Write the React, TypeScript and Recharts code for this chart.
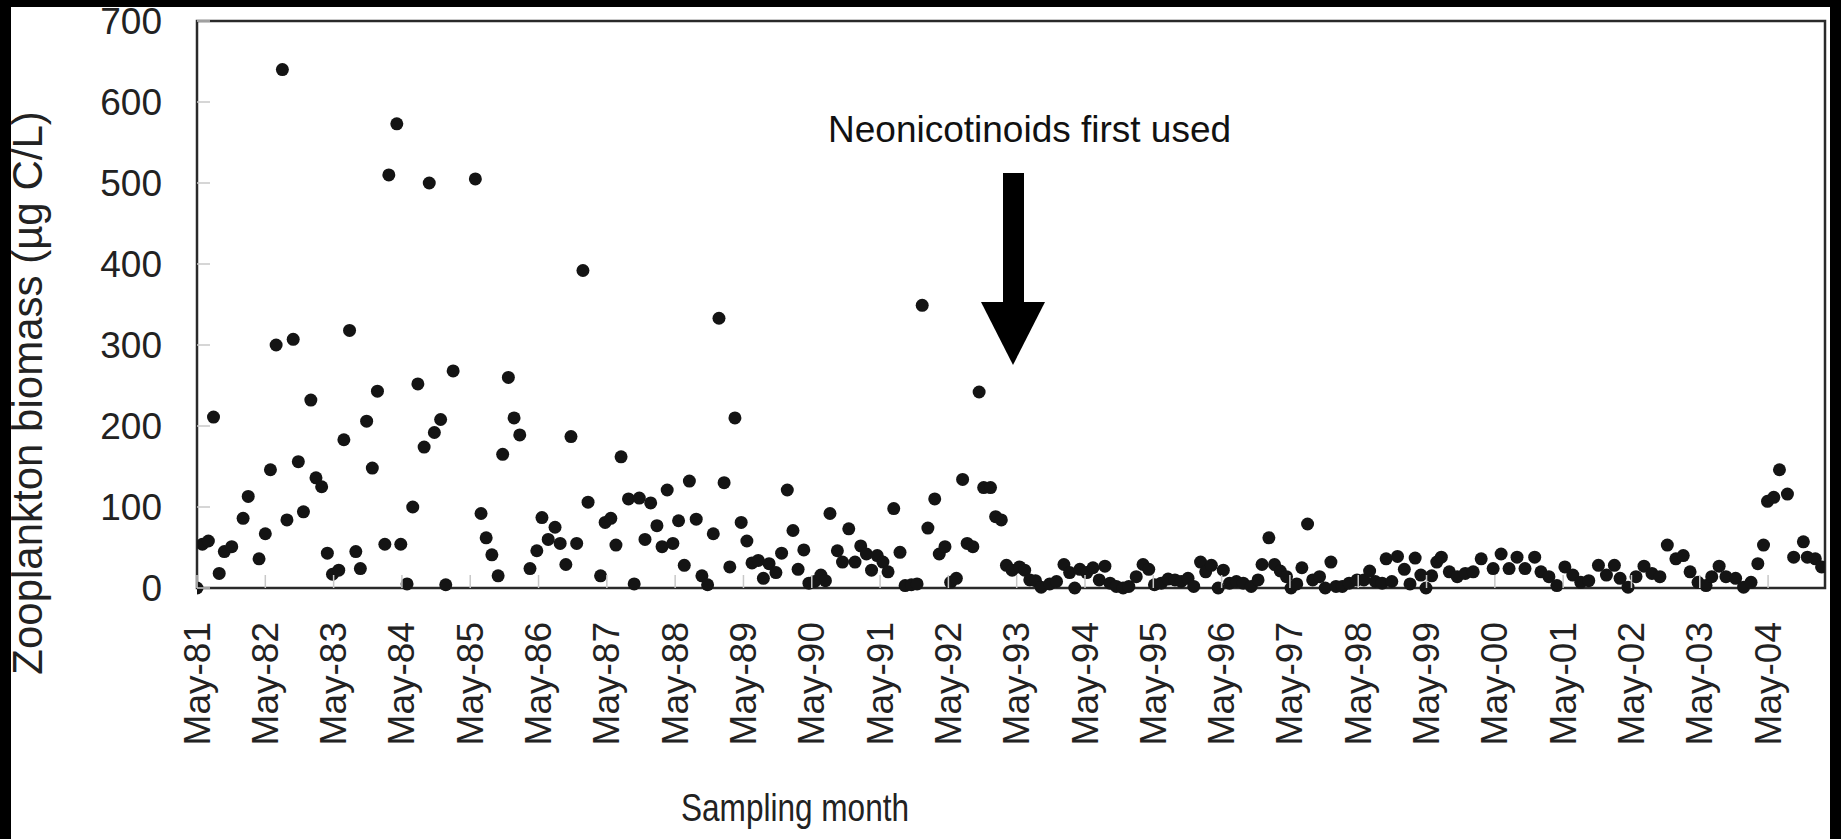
import React from "react";
import { ScatterChart, Scatter, XAxis, YAxis } from "recharts";

// month offset from May-81, zooplankton biomass (ug C/L)
const p1981_84 = [
  [0, 0], [0.95, 54], [2, 58], [2.9, 211], [3.9, 18], [4.8, 45], [6.1, 51], [8.1, 86], [9, 113], [10.9, 36],
  [12, 67], [12.9, 146], [13.9, 300], [15, 640], [15.8, 84], [16.9, 307], [17.8, 156], [18.7, 94], [20, 232],
  [20.9, 136], [21.9, 125], [22.9, 43], [23.8, 17], [24.9, 22], [25.8, 183], [26.8, 318], [27.9, 45], [28.7, 24],
  [29.8, 206], [30.8, 148], [31.7, 243], [33, 54], [33.7, 510], [35.1, 573], [35.8, 54], [36.9, 5], [37.9, 100],
  [38.8, 252], [39.9, 174], [40.8, 500], [41.7, 192], [42.8, 208], [43.7, 4], [45, 268],
];
const p1985_88 = [
  [48.9, 505], [49.9, 92], [50.8, 62], [51.8, 41], [52.9, 15], [53.7, 165], [54.7, 260], [55.7, 210], [56.7, 189],
  [58.5, 24], [59.7, 46], [60.6, 87], [61.7, 60], [62.9, 75], [63.8, 55], [64.8, 29], [65.7, 187], [66.7, 55],
  [67.8, 392], [68.7, 106], [70.9, 15], [71.7, 81], [72.7, 86], [73.6, 53], [74.5, 162], [75.8, 110], [76.8, 5],
  [77.7, 111], [78.7, 60], [79.7, 105], [80.8, 77], [81.7, 51], [82.6, 121], [83.6, 55], [84.6, 83], [85.6, 28],
  [86.5, 132], [87.7, 85], [88.7, 15], [89.7, 4], [90.7, 67], [91.7, 333], [92.6, 130], [93.6, 26], [94.5, 210],
  [95.6, 81],
];
const p1989_92 = [
  [96.6, 58], [97.5, 31], [98.6, 34], [99.5, 12], [100.5, 30], [101.7, 19], [102.7, 43], [103.7, 121], [104.7, 71],
  [105.6, 23], [106.6, 47], [107.5, 6], [108.5, 8], [109.6, 16], [110.4, 9], [111.2, 92], [112.5, 46], [113.4, 32],
  [114.5, 73], [115.6, 32], [116.6, 52], [117.6, 42], [118.5, 22], [119.5, 40], [120.5, 32], [121.4, 20],
  [122.4, 98], [123.5, 44], [124.4, 3], [125.5, 4], [126.5, 5], [127.4, 349], [128.4, 74], [129.6, 110],
  [130.4, 42], [131.4, 51], [132.4, 7], [133.4, 12], [134.5, 134], [135.3, 55], [136.3, 51], [137.4, 242],
  [138.2, 124], [139.4, 124], [140.3, 88], [141.3, 84], [142.2, 28], [143.2, 22],
];
const p1993_96 = [
  [144.5, 26], [145.4, 22], [146.3, 10], [147.3, 9], [148.3, 1], [149.8, 5], [151, 8], [152.3, 29], [153.3, 19],
  [154.2, 0], [155.1, 23], [156.3, 19], [157.4, 25], [158.5, 10], [159.5, 27], [160.4, 6], [161.5, 2], [162.7, 0],
  [163.7, 2], [165, 14], [166.2, 29], [167.2, 23], [168.2, 4], [169.4, 6], [170.6, 11], [171.8, 10], [172.9, 8],
  [174.1, 12], [175.1, 2], [176.3, 32], [177.2, 20], [178.2, 28], [179.4, 0], [180.3, 22], [181.4, 6], [182.6, 8],
  [183.8, 6], [185.2, 2], [186.4, 10], [187.1, 29], [188.3, 62], [189.3, 29], [190.3, 21], [191.4, 14],
];
const p1997_00 = [
  [192.2, 0], [193.2, 5], [194.1, 25], [195.1, 79], [196, 10], [197.2, 14], [198.2, 0], [199.2, 32], [200.1, 2],
  [201.2, 2], [202.4, 6], [203.8, 10], [205, 10], [206, 21], [207, 8], [208.2, 6], [208.9, 36], [209.9, 8],
  [210.9, 39], [212.1, 23], [213.1, 5], [214, 37], [215, 16], [215.9, 0], [216.9, 15], [217.8, 32], [218.6, 38],
  [220, 20], [221.4, 14], [222.8, 18], [224.2, 20], [225.6, 36], [227.7, 24], [229.1, 42], [230.5, 24],
  [231.9, 38], [233.3, 24], [235, 38], [236.1, 20], [237.5, 14], [238.9, 3],
];
const p2001_05 = [
  [240.3, 26], [241.7, 16], [243.1, 7], [244.5, 9], [246.2, 28], [247.6, 16], [249, 28], [250, 12], [251.4, 1],
  [252.8, 14], [254.2, 27], [255.6, 18], [257, 14], [258.3, 53], [259.8, 36], [261.1, 40], [262.3, 20], [263.7, 7],
  [265.1, 3], [266.1, 14], [267.4, 27], [268.6, 14], [270.3, 12], [271.7, 1], [273, 7], [274.2, 30], [275.2, 53],
  [275.9, 107], [277, 112], [278, 146], [279.4, 116], [280.5, 38], [282.2, 57], [282.9, 38], [284.3, 36],
  [285.4, 26],
];

const tickLabels = [
  "May-81", "May-82", "May-83", "May-84", "May-85", "May-86", "May-87", "May-88", "May-89", "May-90", "May-91",
  "May-92", "May-93", "May-94", "May-95", "May-96", "May-97", "May-98", "May-99", "May-00", "May-01", "May-02",
  "May-03", "May-04",
];
const yTicks = [0, 100, 200, 300, 400, 500, 600, 700];

const data = [...p1981_84, ...p1985_88, ...p1989_92, ...p1993_96, ...p1997_00, ...p2001_05].map(([month, biomass]) => ({
  month,
  biomass,
}));
const xTicks = tickLabels.map((_, i) => i * 12);

const FONT = "'Liberation Sans', Arial, Helvetica, sans-serif";
const PLOT_LEFT = 197;
const PLOT_RIGHT = 1825;
const PLOT_TOP = 21;
const PLOT_BOTTOM = 588;

const YTick = ({ y, payload }: any) => (
  <g>
    <line x1={PLOT_LEFT} x2={PLOT_LEFT + 13} y1={y} y2={y} stroke="#c8c8c8" strokeWidth={1.5} />
    <text x={162} y={y} textAnchor="end" dominantBaseline="central" fontSize={37} fontFamily={FONT} fill="#222">
      {payload.value}
    </text>
  </g>
);

const XTick = ({ x, payload, index }: any) => (
  <g>
    <line x1={x} x2={x} y1={PLOT_BOTTOM} y2={PLOT_BOTTOM - 13} stroke="#c8c8c8" strokeWidth={1.5} />
    <text
      transform={`translate(${x},622) rotate(-90)`}
      textAnchor="end"
      dominantBaseline="central"
      fontSize={37}
      fontFamily={FONT}
      fill="#222"
    >
      {tickLabels[index] ?? payload.value}
    </text>
  </g>
);

const Dot = (props: any) => <circle cx={props.cx} cy={props.cy} r={6.5} fill="#141414" />;

export default function App() {
  return (
    <div style={{ position: "absolute", left: 0, top: 0, width: 1841, height: 839, background: "#000", overflow: "hidden" }}>
      <div style={{ position: "absolute", left: 11, top: 7, width: 1830 - 11, height: 839 - 7, background: "#fff" }} />
      <svg width={1841} height={839} style={{ position: "absolute", left: 0, top: 0 }}>
        <rect
          x={PLOT_LEFT}
          y={PLOT_TOP}
          width={PLOT_RIGHT - PLOT_LEFT}
          height={PLOT_BOTTOM - PLOT_TOP}
          fill="none"
          stroke="#2a2a2a"
          strokeWidth={2.5}
        />
      </svg>
      <div style={{ position: "absolute", left: 0, top: 0 }}>
        <ScatterChart
          width={1841}
          height={839}
          margin={{ top: PLOT_TOP, right: 1841 - PLOT_RIGHT, bottom: 839 - PLOT_BOTTOM - 60, left: PLOT_LEFT - 100 }}
        >
          <XAxis
            type="number"
            dataKey="month"
            domain={[0, 286]}
            ticks={xTicks}
            interval={0}
            height={60}
            axisLine={false}
            tickLine={false}
            tick={<XTick />}
            allowDataOverflow
          />
          <YAxis
            type="number"
            dataKey="biomass"
            domain={[0, 700]}
            ticks={yTicks}
            interval={0}
            width={100}
            axisLine={false}
            tickLine={false}
            tick={<YTick />}
          />
          <Scatter data={data} shape={<Dot />} isAnimationActive={false} />
        </ScatterChart>
      </div>
      <svg width={1841} height={839} style={{ position: "absolute", left: 0, top: 0, pointerEvents: "none" }}>
        <text x={828} y={129} dominantBaseline="central" fontSize={37} fontFamily={FONT} fill="#111">
          Neonicotinoids first used
        </text>
        <rect x={1003} y={173} width={21} height={130} fill="#000" />
        <polygon points="981,302 1045,302 1013,365" fill="#000" />
        <text
          x={681}
          y={808}
          dominantBaseline="central"
          fontSize={38}
          fontFamily={FONT}
          fill="#222"
          textLength={228}
          lengthAdjust="spacingAndGlyphs"
        >
          Sampling month
        </text>
        <text
          transform="translate(27,393) rotate(-90)"
          textAnchor="middle"
          dominantBaseline="central"
          fontSize={42}
          fontFamily={FONT}
          fill="#222"
        >
          Zooplankton biomass (µg C/L)
        </text>
      </svg>
    </div>
  );
}
